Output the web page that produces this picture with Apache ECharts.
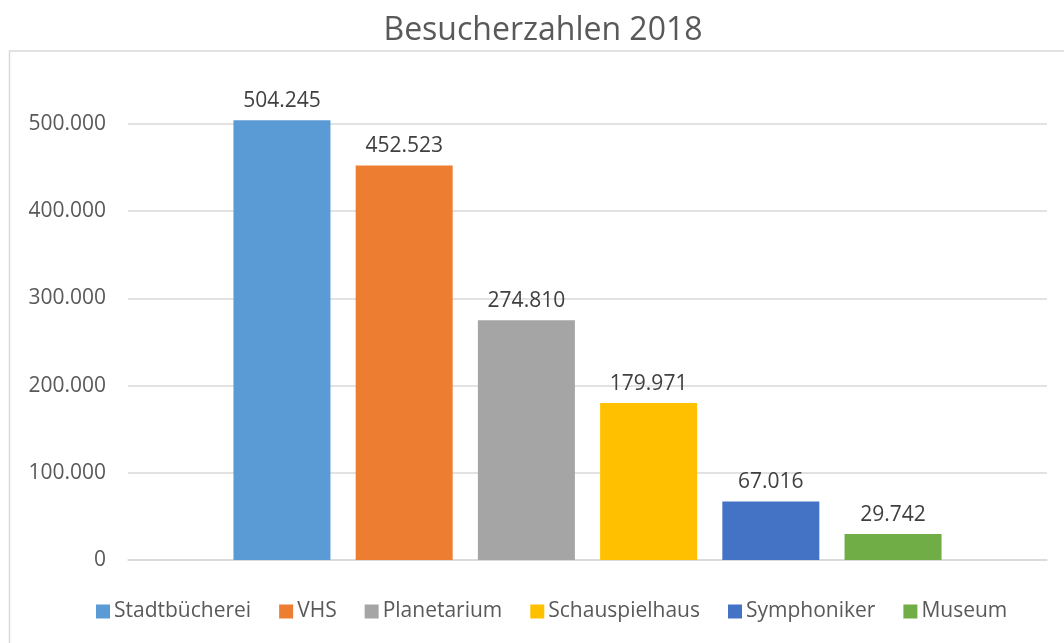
<!DOCTYPE html>
<html lang="de">
<head>
    <meta charset="UTF-8">
    <title>Besucherzahlen 2018</title>
    <script src="https://cdn.jsdelivr.net/npm/echarts@6/dist/echarts.min.js"></script>
    <style>
        html, body { margin: 0; padding: 0; background: #fff; }
        #main { width: 1064px; height: 643px; }
    </style>
</head>
<body>
<div id="main"></div>
<script>
    var names = ['Stadtbücherei', 'VHS', 'Planetarium', 'Schauspielhaus', 'Symphoniker', 'Museum'];
    var values = [504245, 452523, 274810, 179971, 67016, 29742];
    var colors = ['#5B9BD5', '#ED7D31', '#A5A5A5', '#FFC000', '#4472C4', '#70AD47'];
    var yTicks = [0, 100000, 200000, 300000, 400000, 500000];

    // German thousands separator
    function fmt(v) {
        return String(Math.round(v)).replace(/\B(?=(\d{3})+(?!\d))/g, '.');
    }

    var chart = echarts.init(document.getElementById('main'));
    var font = '"Open Sans", sans-serif';

    var series = [];
    for (var i = 0; i < names.length; i++) {
        series.push({
            name: names[i],
            type: 'bar',
            data: [values[i]],
            barWidth: 97,
            barGap: '26%',
            clip: false,
            itemStyle: { color: colors[i] },
            label: {
                show: true,
                position: 'top',
                distance: 9,
                color: '#404040',
                fontFamily: font,
                fontSize: 21,
                formatter: function (p) { return fmt(p.value); }
            }
        });
    }

    var option = {
        animation: false,
        textStyle: { fontFamily: font },
        graphic: [{
            type: 'rect',
            shape: { x: 9.5, y: 51, width: 1200, height: 700 },
            style: { fill: 'none', stroke: '#d9d9d9', lineWidth: 1.5 },
            z: -1
        }, {
            type: 'text',
            x: 543,
            y: 15,
            style: {
                text: 'Besucherzahlen 2018',
                fontFamily: font,
                fontSize: 32,
                fill: '#595959',
                align: 'center'
            }
        }],
        legend: {
            data: names,
            left: 91,
            top: 596,
            itemWidth: 14,
            itemHeight: 14,
            itemGap: 28,
            icon: 'rect',
            textStyle: { fontFamily: font, fontSize: 21, color: '#595959', padding: [0, 0, 0, -1] }
        },
        grid: { left: 128, right: 17, top: 124, bottom: 83 },
        xAxis: {
            type: 'category',
            data: [''],
            axisLine: { show: true, lineStyle: { color: '#d9d9d9', width: 1.5 } },
            axisTick: { show: false },
            axisLabel: { show: false }
        },
        yAxis: {
            type: 'value',
            min: yTicks[0],
            max: yTicks[yTicks.length - 1],
            interval: 100000,
            axisLine: { show: false },
            axisTick: { show: false },
            splitLine: { lineStyle: { color: '#d9d9d9', width: 1.5 } },
            axisLabel: {
                margin: 22,
                color: '#595959',
                fontFamily: font,
                fontSize: 21,
                formatter: function (v) { return fmt(v); }
            }
        },
        series: series
    };

    chart.setOption(option);
</script>
</body>
</html>
